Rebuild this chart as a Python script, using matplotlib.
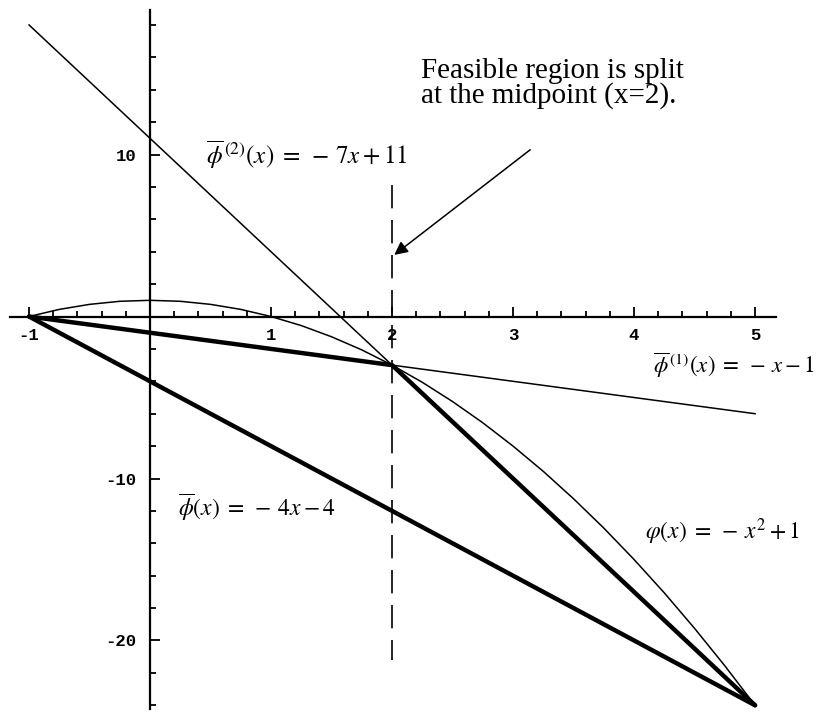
import matplotlib
matplotlib.use('Agg')
import matplotlib.pyplot as plt
from matplotlib.ticker import FixedLocator

plt.rcParams['font.family'] = 'Liberation Serif'
plt.rcParams['mathtext.fontset'] = 'stix'

# phi(x) = -x^2 + 1
phi_x = [-1, -0.75, -0.5, -0.25, 0, 0.25, 0.5, 0.75, 1, 1.25, 1.5, 1.75,
         2, 2.25, 2.5, 2.75, 3, 3.25, 3.5, 3.75, 4, 4.25, 4.5, 4.75, 5]
phi_y = [0, 0.44, 0.75, 0.94, 1, 0.94, 0.75, 0.44, 0, -0.56, -1.25, -2.06,
         -3, -4.06, -5.25, -6.56, -8, -9.56, -11.25, -13.06, -15, -17.06,
         -19.25, -21.56, -24]

# phi^(2)(x) = -7x + 11 on the left half
under2_x = [-1, 2]
under2_y = [18, -3]
# phi^(1)(x) = -x - 1
under1_x = [-1, 2, 5]
under1_y = [0, -3, -6]
# phibar(x) = -4x - 4
bar_x = [-1, 5]
bar_y = [0, -24]
# split piecewise underestimator
split_x = [-1, 2, 5]
split_y = [0, -3, -24]

midpoint = 2
dash_span = (8.1, -21.2)

xtick_vals = [-1, 1, 2, 3, 4, 5]
ytick_vals = [-20, -10, 10]
xminor = [i * 0.2 for i in range(-5, 26)]
yminor = [i * 2 for i in range(-12, 10)]

fig = plt.figure(figsize=(8.17, 7.15), dpi=100)
ax = fig.add_axes([0, 0, 1, 1])
ax.set_xlim(-1.240, 5.512)
ax.set_ylim(-24.6, 19.54)
ax.patch.set_visible(False)

# axes through the origin, Mathematica style
for s in ['top', 'right']:
    ax.spines[s].set_visible(False)
ax.spines['left'].set_position(('data', 0))
ax.spines['bottom'].set_position(('data', 0))
ax.spines['left'].set_bounds(-24.2, 18.9)
ax.spines['bottom'].set_bounds(-1.16, 5.17)
for s in ['left', 'bottom']:
    ax.spines[s].set_linewidth(1.6)

ax.xaxis.set_major_locator(FixedLocator(xtick_vals))
ax.xaxis.set_minor_locator(FixedLocator(xminor))
ax.yaxis.set_major_locator(FixedLocator(ytick_vals))
ax.yaxis.set_minor_locator(FixedLocator(yminor))
ax.tick_params(which='both', direction='in', width=1.3)
ax.tick_params(which='major', length=7)
ax.tick_params(which='minor', length=4)
ax.tick_params(axis='x', pad=8)
ax.tick_params(axis='y', pad=10)
ax.set_xticklabels([str(v) for v in xtick_vals], family='Liberation Mono',
                   fontsize=12.5, fontweight='bold')
ax.set_yticklabels([str(v) for v in ytick_vals], family='Liberation Mono',
                   fontsize=12.5, fontweight='bold')

# thin curves
ax.plot(phi_x, phi_y, color='black', lw=1.1)
ax.plot(under2_x, under2_y, color='black', lw=1.1)
ax.plot(under1_x, under1_y, color='black', lw=1.1)

# thick underestimators
ax.plot(bar_x, bar_y, color='black', lw=3.2, solid_capstyle='round')
ax.plot(split_x, split_y, color='black', lw=3.2, solid_capstyle='round',
        solid_joinstyle='round')

# split line
ax.plot([midpoint, midpoint], dash_span, color='black', lw=1.2,
        dashes=(14, 7))

ax.annotate('', xy=(2.0, 3.7), xytext=(3.16, 10.4),
            arrowprops=dict(arrowstyle='-|>', color='black', lw=1.1,
                            mutation_scale=20))
ax.text(2.24, 12.8, 'Feasible region is split\nat the midpoint (x=2).',
        fontsize=21, ha='left', va='bottom', linespacing=0.92)

ax.text(0.46, 10.0, r'$\overline{\phi}^{\,(2)}(x)\;=\;-\,7x+11$',
        fontsize=18, ha='left', va='center')
ax.text(4.16, -3.0, r'$\overline{\phi}^{\,(1)}(x)\;=\;-\,x-1$',
        fontsize=16.5, ha='left', va='center')
ax.text(0.23, -11.8, r'$\overline{\phi}(x)\;=\;-\,4x-4$',
        fontsize=17, ha='left', va='center')
ax.text(4.09, -13.3, r'$\varphi(x)\;=\;-\,x^{2}+1$',
        fontsize=17, ha='left', va='center')

fig.savefig('out.png', dpi=100)
